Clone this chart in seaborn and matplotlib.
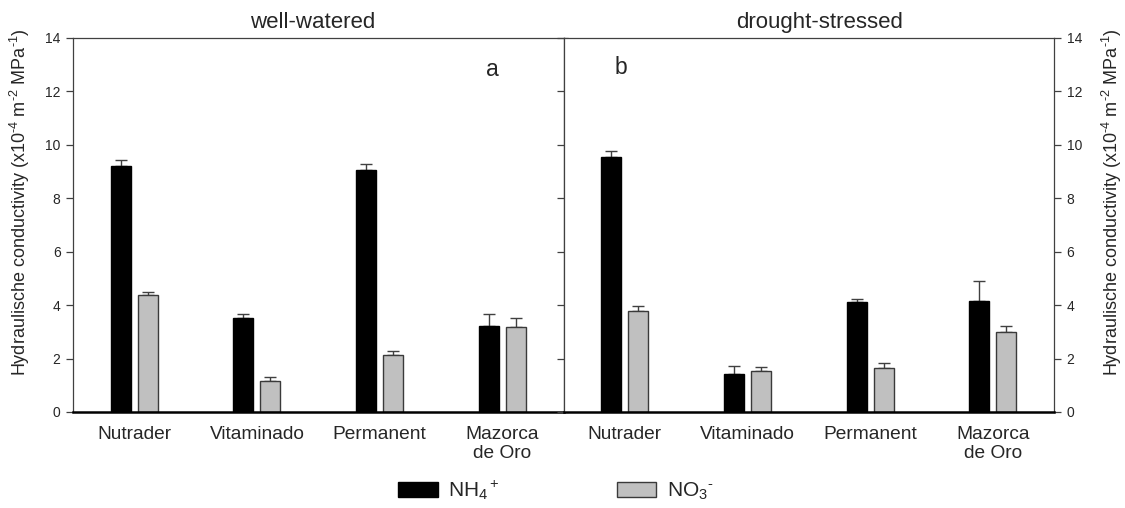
import numpy as np
import pandas as pd
import matplotlib
matplotlib.use("Agg")
import matplotlib.pyplot as plt
from matplotlib.patches import Patch
import seaborn as sns

# ---- data ----
cultivars = ["Nutrader", "Vitaminado", "Permanent", "Mazorca\nde Oro"]
nitrogen = ["NH$_4$$^+$", "NO$_3$$^{\u2010}$"]

ww_nh4 = [9.18, 3.51, 9.06, 3.22]
ww_nh4_se = [0.24, 0.16, 0.20, 0.46]
ww_no3 = [4.36, 1.16, 2.13, 3.16]
ww_no3_se = [0.13, 0.16, 0.15, 0.37]

ds_nh4 = [9.54, 1.42, 4.11, 4.16]
ds_nh4_se = [0.21, 0.31, 0.12, 0.72]
ds_no3 = [3.77, 1.54, 1.63, 2.98]
ds_no3_se = [0.20, 0.14, 0.21, 0.24]

panel_titles = ["well-watered", "drought-stressed"]
panel_letters = ["a", "b"]
yticks = [0, 2, 4, 6, 8, 10, 12, 14]

sns.set_theme(style="white")
plt.rcParams["font.family"] = ["Liberation Sans", "DejaVu Sans"]
plt.rcParams["mathtext.fontset"] = "custom"
plt.rcParams["mathtext.rm"] = "Liberation Sans"
plt.rcParams["mathtext.it"] = "Liberation Sans"
plt.rcParams["mathtext.bf"] = "Liberation Sans"

colors = {nitrogen[0]: "#000000", nitrogen[1]: "#c0c0c0"}
edges = {nitrogen[0]: "#000000", nitrogen[1]: "#3a3a3a"}

def frame(nh4, nh4_se, no3, no3_se):
    return pd.DataFrame({
        "cultivar": cultivars * 2,
        "N": [nitrogen[0]] * 4 + [nitrogen[1]] * 4,
        "value": nh4 + no3,
        "se": nh4_se + no3_se,
    })

panels = [frame(ww_nh4, ww_nh4_se, ww_no3, ww_no3_se),
          frame(ds_nh4, ds_nh4_se, ds_no3, ds_no3_se)]

fig = plt.figure(figsize=(11.25, 5.08), dpi=100)
left, right, bottom, top = 0.0649, 0.937, 0.189, 0.926
w = (right - left) / 2
axes = [fig.add_axes([left, bottom, w, top - bottom]),
        fig.add_axes([left + w, bottom, w, top - bottom])]

ylabel = "Hydraulische conductivity (x10$^{\u20104}$ m$^{\u20102}$ MPa$^{\u20101}$)"
spine_col = "#404040"
title_x = [0.489, 0.522]

for i, (ax, df) in enumerate(zip(axes, panels)):
    sns.barplot(data=df, x="cultivar", y="value", hue="N", order=cultivars,
                hue_order=nitrogen, palette=colors, width=0.44, gap=0.26,
                errorbar=None, legend=False, ax=ax, zorder=2)
    # bar outlines and upper-only error bars
    for cont, n in zip(ax.containers, nitrogen):
        sub = df[df["N"] == n].set_index("cultivar").loc[cultivars]
        for bar, val, se in zip(cont, sub["value"], sub["se"]):
            bar.set_edgecolor(edges[n])
            bar.set_linewidth(1.0)
            xc = bar.get_x() + bar.get_width() / 2
            ax.errorbar(xc, val, yerr=[[0], [se]], fmt="none",
                        ecolor=spine_col, elinewidth=1.0, capsize=4.5,
                        capthick=1.0, zorder=1)
    ax.set_xlim(-0.5, 3.5)
    ax.set_ylim(0, 14)
    ax.set_yticks(yticks)
    ax.set_xlabel("")
    ax.set_ylabel("")
    ax.tick_params(axis="x", length=0, labelsize=13.8, pad=10)
    for s in ax.spines.values():
        s.set_visible(True)
        s.set_color(spine_col)
        s.set_linewidth(0.9)
    ax.spines["bottom"].set_color("black")
    ax.spines["bottom"].set_linewidth(1.8)
    ax.set_title(panel_titles[i], fontsize=16, pad=7, x=title_x[i])

ax1, ax2 = axes
ax1.tick_params(axis="y", left=True, right=False, direction="out",
                length=5, width=0.9, color=spine_col, labelsize=10, pad=4)
ax1.set_ylabel(ylabel, fontsize=13)
ax1.yaxis.set_label_coords(-0.083, 0.56)

ax2.tick_params(axis="y", left=True, right=True, labelleft=False,
                labelright=True, direction="out", length=5, width=0.9,
                color=spine_col, labelsize=10, pad=4)
ax2.yaxis.set_label_position("right")
ax2.set_ylabel(ylabel, fontsize=13)
ax2.yaxis.set_label_coords(1.093, 0.56)
# short ticks poking into the left panel at the shared border
for t in yticks:
    ax1.plot([3.5, 3.5 + 0.035], [t, t], color=spine_col, lw=0.9,
             clip_on=False, zorder=3)

ax1.text(0.855, 0.945, panel_letters[0], transform=ax1.transAxes,
         fontsize=16.5, ha="center", va="top")
ax2.text(0.117, 0.95, panel_letters[1], transform=ax2.transAxes,
         fontsize=16.5, ha="center", va="top")

handles = [Patch(facecolor=colors[n], edgecolor=edges[n], linewidth=1.0,
                 label=n) for n in nitrogen]
fig.legend(handles=handles, loc="center", bbox_to_anchor=(0.494, 0.035),
           ncol=2, frameon=False, fontsize=15, handlelength=1.9,
           handleheight=0.75, handletextpad=0.5, columnspacing=5.6)

fig.savefig("out.png", dpi=100, facecolor="white")
